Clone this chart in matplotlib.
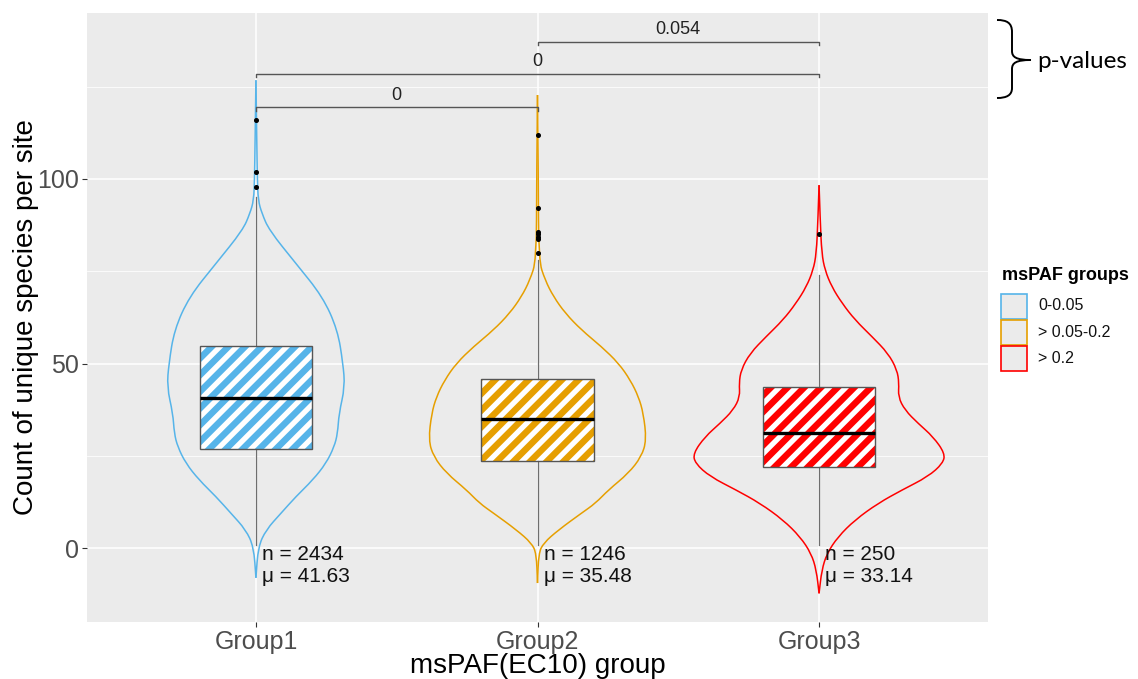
import numpy as np
import matplotlib
matplotlib.use("Agg")
import matplotlib.pyplot as plt
from matplotlib.patches import PathPatch, Rectangle
from matplotlib.path import Path

plt.rcParams['font.family'] = ['Liberation Sans', 'DejaVu Sans']
plt.rcParams['hatch.linewidth'] = 3.8

groups = ["Group1", "Group2", "Group3"]
legend_labels = ["0-0.05", "> 0.05-0.2", "> 0.2"]
colors = ["#56B4E9", "#E69F00", "#FF0000"]

# violin outlines: value, half width
g1_y = [126.7, 110, 100, 94.2, 90.7, 86.1, 77.1, 68.1, 59.1, 50.1, 43.7, 36.5, 31.1, 27.5, 23.0, 18.5, 14.0, 9.5, 5.0, 0.4, -8.0]
g1_w = [0, 0.003, 0.005, 0.008, 0.021, 0.047, 0.142, 0.237, 0.290, 0.309, 0.316, 0.295, 0.290, 0.278, 0.249, 0.202, 0.142, 0.089, 0.036, 0.008, 0]
g2_y = [122.7, 100, 78.0, 72.6, 68.1, 63.6, 59.1, 54.6, 50.1, 45.5, 41.0, 36.5, 29.3, 24.8, 20.3, 15.8, 12.2, 9.5, 5.0, 1.4, -1.4, -9.4]
g2_w = [0, 0.003, 0.004, 0.027, 0.057, 0.099, 0.156, 0.227, 0.288, 0.330, 0.359, 0.376, 0.387, 0.369, 0.323, 0.252, 0.206, 0.156, 0.075, 0.021, 0.004, 0]
g3_y = [98.3, 88.8, 79.8, 75.3, 70.8, 66.3, 61.8, 57.3, 52.8, 48.3, 44.7, 41.0, 37.4, 33.8, 30.2, 25.7, 23.0, 19.4, 15.8, 12.2, 7.7, 3.1, -1.4, -5.9, -12.2]
g3_w = [0, 0.004, 0.0096, 0.021, 0.045, 0.082, 0.128, 0.188, 0.245, 0.277, 0.284, 0.281, 0.305, 0.352, 0.405, 0.447, 0.440, 0.387, 0.295, 0.210, 0.128, 0.067, 0.028, 0.0096, 0]

q1 = [26.8, 23.6, 22.1]
med = [40.6, 34.9, 31.1]
q3 = [54.8, 45.7, 43.7]
whislo = [0.9, 0.9, 0.9]
whishi = [95.2, 78.0, 74.0]
fliers = [[116.0, 101.9, 97.9],
          [111.9, 92.0, 85.7, 85.1, 84.3, 83.6, 80.0],
          [85.2]]

n_obs = [2434, 1246, 250]
means = [41.63, 35.48, 33.14]

pairs = [(1, 2), (1, 3), (2, 3)]
pair_y = [119.4, 128.4, 137.1]
pvals = ["0", "0", "0.054"]


def smooth_outline(xs, ys):
    # quadratic curves through the midpoints, read points act as controls
    pts = list(zip(xs, ys))
    verts = [pts[0]]
    codes = [Path.MOVETO]
    for i in range(1, len(pts) - 1):
        mid = ((pts[i][0] + pts[i + 1][0]) / 2, (pts[i][1] + pts[i + 1][1]) / 2)
        verts += [pts[i], mid]
        codes += [Path.CURVE3, Path.CURVE3]
    verts.append(pts[-1])
    codes.append(Path.LINETO)
    return Path(verts, codes)


fig = plt.figure(figsize=(11.38, 6.79), dpi=100)
W, H = 1138.0, 679.0
ax = fig.add_axes([87/W, 57/H, 901/W, 609/H])
ax.set_facecolor("#EBEBEB")
for s in ax.spines.values():
    s.set_visible(False)

pos = [1, 2, 3]

# violins
vy = [g1_y, g2_y, g3_y]
vw = [g1_w, g2_w, g3_w]
for i in range(3):
    y = np.array(vy[i])
    w = np.array(vw[i])
    left = smooth_outline(pos[i] - w, y)
    right = smooth_outline(pos[i] + w, y)
    ax.add_patch(PathPatch(left, facecolor="none", edgecolor=colors[i], lw=1.1, zorder=2))
    ax.add_patch(PathPatch(right, facecolor="none", edgecolor=colors[i], lw=1.1, zorder=2))

# boxplots
stats = []
for i in range(3):
    stats.append(dict(med=med[i], q1=q1[i], q3=q3[i], whislo=whislo[i],
                      whishi=whishi[i], fliers=fliers[i]))
bp = ax.bxp(stats, positions=pos, widths=0.4, patch_artist=True, showcaps=False,
            manage_ticks=False,
            boxprops=dict(edgecolor="white", linewidth=0),
            whiskerprops=dict(color="#6E6E6E", lw=0.9),
            medianprops=dict(color="black", lw=2.4),
            flierprops=dict(marker="o", markersize=2.6, markerfacecolor="black",
                            markeredgecolor="black"),
            zorder=3)
for i, box in enumerate(bp["boxes"]):
    box.set_facecolor(colors[i])
    box.set_hatch("//")
    ax.add_patch(PathPatch(box.get_path(), facecolor="none", edgecolor="#555555",
                           lw=1.0, zorder=3.5))
for m in bp["medians"]:
    m.set_zorder(4)

ax.set_xlim(0.4, 3.6)
ax.set_ylim(-19.95, 144.9)
ax.set_yticks([0, 50, 100])
ax.set_yticks([25, 75, 125], minor=True)
ax.set_xticks(pos)
ax.set_xticklabels(groups)
ax.grid(which="major", color="white", lw=1.1)
ax.grid(which="minor", axis="y", color="white", lw=0.55)
ax.set_axisbelow(True)
ax.tick_params(axis="both", which="major", labelsize=18, labelcolor="#4D4D4D",
               color="#333333", length=3.5, width=0.8, pad=2.5)
ax.tick_params(axis="y", which="minor", length=0)

# n and mean labels
for i in range(3):
    ax.text(pos[i] + 0.022, -4.65, "n = %d\nμ = %.2f" % (n_obs[i], means[i]),
            ha="left", va="center", fontsize=15, color="#111111", zorder=5)

# significance brackets
for (a, b), y, p in zip(pairs, pair_y, pvals):
    ax.plot([a, a, b, b], [y - 0.9, y, y, y - 0.9], color="#555555", lw=1.0, zorder=5)
    ax.text((a + b) / 2, y + 3.3, p, ha="center", va="center", fontsize=13,
            color="#222222")

ax.set_xlabel("msPAF(EC10) group", fontsize=20, va="center")
ax.xaxis.set_label_coords(0.5, -0.073)
ax.set_ylabel("Count of unique species per site", fontsize=20, va="center")
ax.yaxis.set_label_coords(-0.068, 0.5)

# legend
fig.text(1002/W, 1 - 276/H, "msPAF groups", fontsize=13, fontweight="bold",
         ha="left", va="center")
key_top = [293.5, 320, 346]
for i in range(3):
    fig.add_artist(Rectangle((1001/W, 1 - (key_top[i] + 25)/H), 26/W, 25/H,
                             facecolor="#EBEBEB", edgecolor=colors[i], lw=1.2,
                             transform=fig.transFigure))
    fig.text(1038/W, 1 - (key_top[i] + 12.5)/H, legend_labels[i], fontsize=11.5,
             ha="left", va="center", color="#111111")

# curly brace and p-values note
brace_px = [(997, 20), (1007, 20), (1012, 23), (1012, 32), (1012, 51),
            (1012, 57), (1016, 60), (1031, 60), (1016, 60), (1012, 63), (1012, 69),
            (1012, 88), (1012, 95), (1007, 98), (997, 98)]
codes = [Path.MOVETO, Path.CURVE4, Path.CURVE4, Path.CURVE4, Path.LINETO,
         Path.CURVE4, Path.CURVE4, Path.CURVE4, Path.CURVE4, Path.CURVE4, Path.CURVE4,
         Path.LINETO, Path.CURVE4, Path.CURVE4, Path.CURVE4]
verts = [(x / W, 1 - y / H) for x, y in brace_px]
fig.add_artist(PathPatch(Path(verts, codes), facecolor="none", edgecolor="black",
                         lw=1.4, transform=fig.transFigure))
fig.text(1037/W, 1 - 61/H, "p-values", fontsize=17.5, family=["Lato", "DejaVu Sans"],
         ha="left", va="center")

fig.savefig("out.png", dpi=100)
